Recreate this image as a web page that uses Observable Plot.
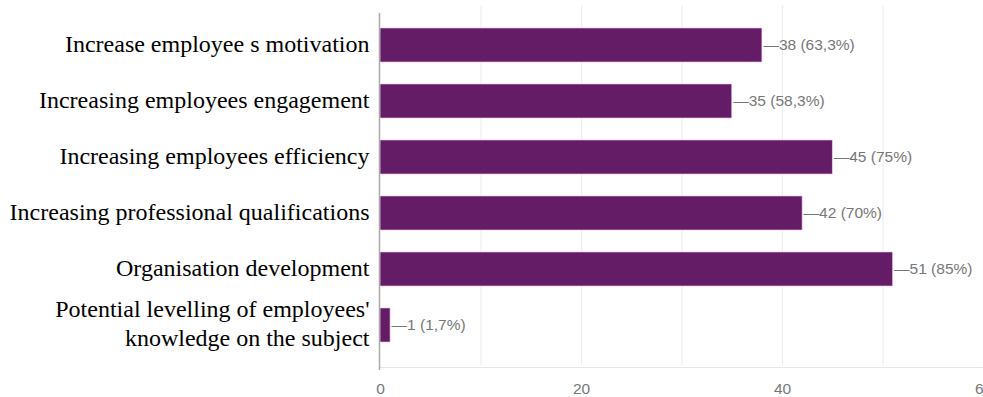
<!DOCTYPE html>
<html>
<head>
<meta charset="utf-8">
<script src="https://cdn.jsdelivr.net/npm/d3@7"></script>
<script src="https://cdn.jsdelivr.net/npm/@observablehq/plot@0.6"></script>
<style>
  html, body { margin: 0; padding: 0; background: #fff; }
  #chart svg { display: block; }
</style>
</head>
<body>
<div id="chart"></div>
<script>
const categories = [
  "Increase employee s motivation",
  "Increasing employees engagement",
  "Increasing employees efficiency",
  "Increasing professional qualifications",
  "Organisation development",
  "Potential levelling of employees'\nknowledge on the subject"
];
const counts = [38, 35, 45, 42, 51, 1];
const percentLabels = ["63,3%", "58,3%", "75%", "70%", "85%", "1,7%"];
const xTicks = [0, 20, 40, 60];
const gridValues = [10, 20, 30, 40, 50, 60];

const data = categories.map((c, i) => ({category: c, count: counts[i], pct: percentLabels[i]}));
const sans = "'Liberation Sans', Arial, sans-serif";

const chart = Plot.plot({
  width: 983,
  height: 397,
  marginLeft: 380,
  marginRight: 0,
  marginTop: 5,
  marginBottom: 32,
  style: {fontFamily: sans, fontSize: "15.5px", color: "#777", background: "#fff", overflow: "visible"},
  x: {domain: [0, 60], ticks: xTicks, tickSize: 0, tickPadding: 17, label: null},
  y: {domain: categories, axis: null, padding: 0.4},
  marks: [
    Plot.ruleX(gridValues, {stroke: "#eeeeee", strokeWidth: 1.2}),
    Plot.frame({anchor: "bottom", stroke: "#e6e6e6", dy: 2}),
    Plot.barX(data, {x: "count", y: "category", fill: "#641c67", stroke: "#e9c6ee", strokeWidth: 0.6}),
    Plot.ruleX([0], {stroke: "#aaaaaa", strokeWidth: 1.5, dx: -1, insetTop: 8, insetBottom: -5}),
    Plot.text(data, {
      x: "count", y: "category",
      text: d => "\u2014" + d.count + " (" + d.pct + ")",
      textAnchor: "start", dx: 1, fill: "#777", fontSize: 15.5
    }),
    Plot.text(data, {
      y: "category", frameAnchor: "left", text: "category",
      textAnchor: "end", dx: -11, dy: -3, fill: "#000",
      fontFamily: "'Liberation Serif', 'Times New Roman', serif", fontSize: 24, lineHeight: 1.2
    })
  ]
});
document.getElementById("chart").appendChild(chart);
</script>
</body>
</html>
